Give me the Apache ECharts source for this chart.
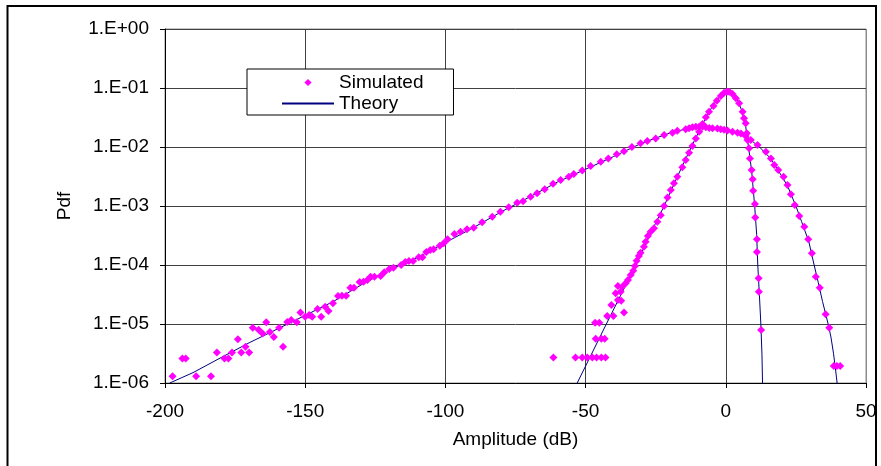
<!DOCTYPE html>
<html>
<head>
<meta charset="utf-8">
<script src="https://cdn.jsdelivr.net/npm/echarts@6/dist/echarts.min.js"></script>
<style>
  html, body { margin: 0; padding: 0; background: #fff; }
  #chart { width: 881px; height: 466px; }
</style>
</head>
<body>
<div id="chart"></div>
<script>
// Amplitude (dB) / pdf pairs
const wideSimulated = [
  [-197.3,1.3e-6],[-193.8,2.6e-6],[-192.6,2.6e-6],[-188.9,1.3e-6],[-183.6,1.3e-6],[-181.5,3.3e-6],
  [-178.8,2.6e-6],[-177.4,2.6e-6],[-176.1,3.3e-6],[-174.0,5.5e-6],[-172.8,3.3e-6],[-171.3,4.1e-6],
  [-170.0,3.3e-6],[-168.7,8.6e-6],[-166.6,8.0e-6],[-165.2,6.9e-6],[-163.9,1.07e-5],[-162.6,7.3e-6],
  [-161.2,6.0e-6],[-159.3,8.6e-6],[-157.9,4.1e-6],[-156.4,1.08e-5],[-155.0,1.17e-5],[-153.0,1.07e-5],
  [-151.7,1.56e-5],[-150.0,1.33e-5],[-148.6,1.42e-5],[-147.5,1.33e-5],[-145.6,1.80e-5],[-144.3,1.33e-5],
  [-142.9,1.96e-5],[-141.7,1.66e-5],[-140.1,2.24e-5],[-138.3,2.98e-5],[-136.9,3.02e-5],[-135.4,3.02e-5],
  [-133.9,4.12e-5],[-132.6,4.12e-5],[-130.6,5.15e-5],[-129.2,5.2e-5],[-127.8,5.57e-5],[-126.7,6.3e-5],
  [-125.3,6.3e-5],[-123.1,6.5e-5],[-121.8,7.5e-5],[-120.0,8.55e-5],[-118.5,9.0e-5],[-115.8,1.0e-4],
  [-114.3,1.12e-4],[-113.0,1.17e-4],[-111.5,1.17e-4],[-109.5,1.35e-4],[-108.2,1.35e-4],[-106.8,1.66e-4],
  [-105.4,1.80e-4],[-104.2,1.85e-4],[-102.0,2.12e-4],[-100.6,2.33e-4],[-99.2,2.73e-4],[-96.8,3.35e-4],
  [-94.6,3.66e-4],[-92.3,4.03e-4],[-89.9,4.29e-4],[-86.9,5.3e-4],[-83.3,6.6e-4],[-80.4,8.0e-4],
  [-77.4,9.5e-4],[-74.4,1.14e-3],[-72.3,1.2e-3],[-69.6,1.44e-3],[-67.3,1.64e-3],[-64.6,1.92e-3],
  [-61.6,2.38e-3],[-58.9,2.76e-3],[-56.0,3.14e-3],[-54.2,3.49e-3],[-51.2,4.0e-3],[-48.2,4.77e-3],
  [-44.6,5.6e-3],[-41.9,6.4e-3],[-38.9,7.5e-3],[-36.3,8.5e-3],[-33.5,1.0e-2],[-30.4,1.16e-2],
  [-28.0,1.26e-2],[-25.0,1.40e-2],[-22.0,1.6e-2],[-19.0,1.75e-2],[-17.3,1.89e-2],[-14.3,2.0e-2],
  [-13.1,2.07e-2],[-11.9,2.16e-2],[-10.7,2.2e-2],[-9.5,2.21e-2],[-8.3,2.2e-2],[-7.1,2.16e-2],
  [-5.9,2.1e-2],[-4.75,2.07e-2],[-3.0,2.05e-2],[-1.8,2.0e-2],[-0.6,1.97e-2],[0.6,1.9e-2],
  [2.4,1.82e-2],[4.2,1.75e-2],[5.4,1.7e-2],[7.1,1.54e-2],[8.9,1.31e-2],[11.3,1.08e-2],
  [14.3,8.3e-3],[16.1,6.4e-3],[17.3,4.95e-3],[18.7,4.07e-3],[20.6,3.14e-3],[22.0,2.27e-3],
  [23.2,1.58e-3],[24.6,1.04e-3],[26.2,6.8e-4],[28.0,4.46e-4],[29.4,2.73e-4],[30.7,1.58e-4],
  [32.1,6.3e-5],[33.5,4.1e-5],[35.6,1.46e-5],[36.9,8.6e-6],[38.5,1.94e-6],[39.6,1.94e-6],[40.8,1.94e-6]
];

const wideTheory = [
  [-198.3,1e-6],[-190,1.5e-6],[-180,2.7e-6],[-170,4.8e-6],[-160,8.2e-6],[-150,1.4e-5],
  [-140,2.4e-5],[-130,4.6e-5],[-120,8.3e-5],[-110,1.33e-4],[-100,2.4e-4],[-90,4.3e-4],
  [-80,8.0e-4],[-70,1.42e-3],[-60,2.55e-3],[-50,4.2e-3],[-40,6.9e-3],[-30,1.16e-2],
  [-20,1.72e-2],[-12,2.15e-2],[-8,2.2e-2],[-4,2.1e-2],[0,1.95e-2],[4,1.76e-2],
  [8,1.42e-2],[12,1.0e-2],[16,6.4e-3],[19,3.8e-3],[22,2.2e-3],[25,1.0e-3],
  [27,5.5e-4],[29.6,2.5e-4],[31.5,1e-4],[33,5e-5],[34.5,2.4e-5],[36.5,1e-5],
  [37.5,6e-6],[38.4,3.2e-6],[39.2,1.6e-6],[39.7,1e-6]
];

const narrowSimulated = [
  [-61.5,2.7e-6],[-53.6,2.7e-6],[-51.2,2.7e-6],[-49.4,2.7e-6],[-47.6,2.7e-6],[-46.1,2.7e-6],
  [-44.4,2.7e-6],[-42.9,2.7e-6],[-46.4,5.6e-6],[-44.4,5.6e-6],[-43.2,5.6e-6],[-46.6,1.05e-5],
  [-45.1,1.05e-5],[-42.3,1.37e-5],[-40.1,1.37e-5],[-40.8,2.1e-5],[-36.3,1.56e-5],[-38.5,2.55e-5],
  [-37.3,2.48e-5],[-39.3,3.31e-5],[-37.5,3.52e-5],[-38.5,4.4e-5],[-36.9,4.3e-5],[-35.7,4.9e-5],
  [-34.9,5.57e-5],[-33.9,6.8e-5],[-33.0,8.0e-5],[-32.4,9.6e-5],[-31.8,1.18e-4],[-31.0,1.42e-4],
  [-30.4,1.62e-4],[-29.2,2.04e-4],[-28.6,2.48e-4],[-27.8,3.1e-4],[-26.8,3.66e-4],[-25.6,4.19e-4],
  [-24.4,5.4e-4],[-23.2,7.0e-4],[-22.0,1.0e-3],[-20.8,1.4e-3],[-19.6,1.87e-3],[-18.5,2.43e-3],
  [-17.3,3.14e-3],[-15.5,4.53e-3],[-14.3,6.0e-3],[-13.1,8.0e-3],[-11.9,1.04e-2],[-10.7,1.4e-2],
  [-9.5,1.82e-2],[-8.3,2.45e-2],[-7.1,3.18e-2],[-6.0,3.96e-2],[-4.4,4.95e-2],[-3.2,6.1e-2],
  [-1.8,7.3e-2],[-0.6,8.3e-2],[0.4,8.6e-2],[1.2,8.65e-2],[2.4,7.9e-2],[3.6,6.7e-2],
  [4.75,5.5e-2],[6.0,3.96e-2],[6.5,3.06e-2],[7.1,2.52e-2],[7.5,1.71e-2],[7.75,1.31e-2],
  [8.3,9.5e-3],[8.6,6.4e-3],[9.2,4.07e-3],[9.6,2.84e-3],[9.75,1.82e-3],[10.4,1.08e-3],
  [10.5,6.4e-4],[11.1,2.73e-4],[11.1,1.66e-4],[11.7,5.95e-5],[11.8,3.52e-5],[12.6,7.9e-6]
];

const narrowTheory = [
  [-53.0,1e-6],[-48.5,2.7e-6],[-42.6,1e-5],[-37.3,3.2e-5],[-32.1,1e-4],[-27,3.3e-4],
  [-22,1e-3],[-17.2,3.2e-3],[-12.3,1e-2],[-8,2.6e-2],[-4.5,5.2e-2],[-2,7.3e-2],
  [0,8.2e-2],[1.2,8.6e-2],[2.5,8e-2],[4,6.4e-2],[5.5,4.4e-2],[7,2.4e-2],
  [8.1,1e-2],[9.2,4e-3],[10.3,1e-3],[11.0,3.3e-4],[11.4,1e-4],[12.0,3e-5],
  [12.5,1e-5],[12.9,3e-6],[13.1,1e-6]
];

const xTicks = [-200, -150, -100, -50, 0, 50];
const yMin = 1e-6, yMax = 1;

const FONT = '"Liberation Sans", Arial, Helvetica, sans-serif';
const SIM_COLOR = '#ff00ff';
const THEORY_COLOR = '#000080';

function sciLabel(v) {
  const e = Math.round(Math.log10(v));
  return '1.E' + (e < 0 ? '-' : '+') + String(Math.abs(e)).padStart(2, '0');
}

const xLineColors = xTicks.map((t, i) => i === xTicks.length - 1 ? '#8c8c8c' : '#404040');

const chart = echarts.init(document.getElementById('chart'), null, { renderer: 'canvas' });

// Simulated points: markers only (the connecting line is hidden)
const simStyle = {
  type: 'line',
  name: 'Simulated',
  symbol: 'diamond',
  symbolSize: 8,
  showSymbol: true,
  showAllSymbol: true,
  lineStyle: { width: 0, opacity: 0 },
  itemStyle: { color: SIM_COLOR, borderWidth: 0 },
  z: 5
};
// Theory curves: plain lines
const theoryStyle = {
  type: 'line',
  name: 'Theory',
  showSymbol: false,
  symbol: 'none',
  lineStyle: { color: THEORY_COLOR, width: 1 },
  itemStyle: { color: THEORY_COLOR },
  z: 3
};

chart.setOption({
  animation: false,
  backgroundColor: '#fff',
  textStyle: { fontFamily: FONT },
  grid: {
    left: 165, right: 15, top: 29, bottom: 83,
    show: true, borderColor: '#8c8c8c', borderWidth: 1, backgroundColor: '#fff'
  },
  legend: {
    orient: 'vertical',
    left: 247, top: 69,
    padding: [4, 30, 2, 34],
    itemGap: 2,
    itemWidth: 52,
    itemHeight: 9,
    borderColor: '#000', borderWidth: 1,
    backgroundColor: '#fff',
    textStyle: { fontFamily: FONT, fontSize: 19, color: '#000' },
    data: [
      { name: 'Simulated', lineStyle: { opacity: 0, width: 0 } },
      { name: 'Theory', itemStyle: { opacity: 0 } }
    ]
  },
  xAxis: {
    type: 'value',
    min: xTicks[0], max: xTicks[xTicks.length - 1],
    interval: xTicks[1] - xTicks[0],
    name: 'Amplitude (dB)',
    nameLocation: 'middle',
    nameGap: 47,
    nameTextStyle: { fontFamily: FONT, fontSize: 19, color: '#000' },
    axisLine: { onZero: false, lineStyle: { color: '#000', width: 1 } },
    axisTick: { show: true, length: 5, inside: false, lineStyle: { color: '#000' } },
    axisLabel: { fontFamily: FONT, fontSize: 19, color: '#000', margin: 19 },
    splitLine: { show: true, lineStyle: { color: xLineColors, width: 1 } }
  },
  yAxis: {
    type: 'log',
    logBase: 10,
    min: yMin, max: yMax,
    name: 'Pdf',
    nameLocation: 'middle',
    nameGap: 91,
    nameTextStyle: { fontFamily: FONT, fontSize: 19, color: '#000' },
    axisLine: { show: true, onZero: false, lineStyle: { color: '#000', width: 1 } },
    axisTick: { show: true, length: 5, inside: false, lineStyle: { color: '#000' } },
    axisLabel: { fontFamily: FONT, fontSize: 19, color: '#000', margin: 16, formatter: sciLabel },
    minorTick: { show: false },
    splitLine: { show: true, lineStyle: { color: '#404040', width: 1 } }
  },
  graphic: [{
    type: 'rect',
    silent: true,
    z: 100,
    shape: { x: 7.5, y: 6, width: 868.5, height: 480 },
    style: { fill: 'none', stroke: '#000', lineWidth: 2 }
  }],
  series: [
    Object.assign({}, theoryStyle, { data: wideTheory }),
    Object.assign({}, theoryStyle, { data: narrowTheory }),
    Object.assign({}, simStyle, { data: wideSimulated }),
    Object.assign({}, simStyle, { data: narrowSimulated })
  ]
});
</script>
</body>
</html>
